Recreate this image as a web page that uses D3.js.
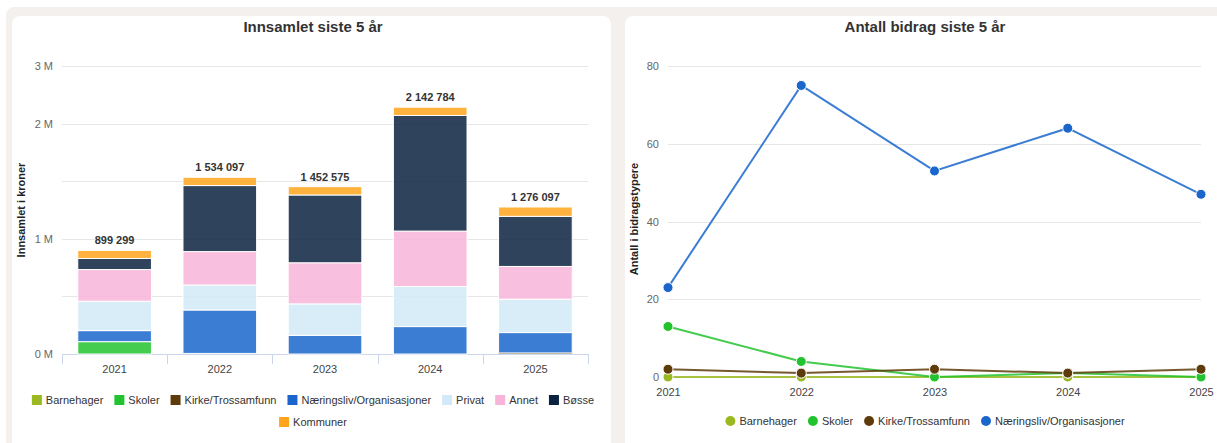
<!DOCTYPE html>
<html><head><meta charset="utf-8">
<script src="https://cdn.jsdelivr.net/npm/d3@7"></script>
<style>
html,body{margin:0;padding:0;background:#fff;}
svg{display:block;font-family:"Liberation Sans",Arial,Helvetica,sans-serif;}
</style></head>
<body>
<svg id="c" width="1217" height="443"></svg>
<script>
// ---------- DATA ----------
const years = ["2021","2022","2023","2024","2025"];
const barSeries = ["Barnehager","Skoler","Kirke/Trossamfunn","Næringsliv/Organisasjoner","Privat","Annet","Bøsse","Kommuner"];
const barnehagerKr = [0, 0, 0, 0, 3000];
const skolerKr = [107000, 5000, 0, 0, 0];
const kirkeKr = [0, 0, 0, 0, 6000];
const naeringslivKr = [96000, 377000, 162000, 238000, 177000];
const privatKr = [255000, 217000, 273000, 348000, 290000];
const annetKr = [275000, 290000, 357000, 481000, 284000];
const bosseKr = [96299, 573097, 588575, 1003784, 435097];
const kommunerKr = [70000, 72000, 72000, 72000, 81000];
const barGridValues = [0, 500000, 1000000, 1500000, 2000000, 2500000];
const barTickValues = [0, 1000000, 2000000, 2500000];
const barTickLabels = ["0 M", "1 M", "2 M", "3 M"];

const lineSeries = ["Barnehager","Skoler","Kirke/Trossamfunn","Næringsliv/Organisasjoner"];
const barnehagerAnt = [0, 0, 0, 0, 0];
const skolerAnt = [13, 4, 0, 1, 0];
const kirkeAnt = [2, 1, 2, 1, 2];
const naeringslivAnt = [23, 75, 53, 64, 47];
const lineTickValues = [0, 20, 40, 60, 80];

const barColors = ["#9ab820","#22c32e","#5e3b0b","#1a66cc","#d2eaf8","#f8b4d9","#0a2240","#ffa41b"];
const lineColors = ["#9ab820","#22c32e","#5e3b0b","#1a66cc"];

// ---------- LAYOUT ----------
const svg = d3.select("#c");
svg.append("rect").attr("x",6).attr("y",7).attr("width",1230).attr("height",460).attr("rx",8).attr("fill","#f3f0ed");
svg.append("rect").attr("x",12).attr("y",16).attr("width",599).attr("height",460).attr("rx",8).attr("fill","#fff");
svg.append("rect").attr("x",625).attr("y",16).attr("width",599).attr("height",460).attr("rx",8).attr("fill","#fff");

const TXT = "#333";

// ---------- LEFT: stacked bars ----------
const barVals = [barnehagerKr, skolerKr, kirkeKr, naeringslivKr, privatKr, annetKr, bosseKr, kommunerKr];
const L = svg.append("g");
L.append("text").attr("x",313).attr("y",32).attr("text-anchor","middle")
  .attr("font-size",15).attr("font-weight","bold").attr("fill",TXT).text("Innsamlet siste 5 år");

const xB = d3.scaleBand().domain(years).range([62,588]).paddingInner(0.3).paddingOuter(0.15);
const yB = d3.scaleLinear().domain([0,2500000]).range([354,66]);

L.append("g").selectAll("line").data(barGridValues).join("line")
  .attr("x1",62).attr("x2",588).attr("y1",d=>Math.round(yB(d))+0.5).attr("y2",d=>Math.round(yB(d))+0.5)
  .attr("stroke","#e6e6e6");

const yAxisL = d3.axisLeft(yB).tickValues(barTickValues).tickSize(0).tickPadding(0)
  .tickFormat((d,i)=>barTickLabels[i]);
const gyL = L.append("g").attr("transform","translate(53,0)").call(yAxisL);
gyL.select(".domain").remove();
gyL.selectAll("text").attr("font-size",11).attr("fill","#666").attr("font-family",null);

// x axis
const xAxisL = d3.axisBottom(xB).tickSize(0).tickPadding(11);
const gxL = L.append("g").attr("transform","translate(0,354)").call(xAxisL);
gxL.select(".domain").attr("stroke","#ccd6eb").attr("d","M62,0.5H588");
gxL.selectAll("text").attr("font-size",11).attr("fill","#444").attr("font-family",null);
// category boundary ticks
const bounds = d3.range(years.length+1).map(i=>62 + i*xB.step());
L.append("g").selectAll("line").data(bounds).join("line")
  .attr("x1",d=>Math.round(d)+0.5).attr("x2",d=>Math.round(d)+0.5).attr("y1",354).attr("y2",364)
  .attr("stroke","#ccd6eb");

L.append("text").attr("transform","translate(25,210) rotate(-90)").attr("text-anchor","middle")
  .attr("font-size",11).attr("font-weight","bold").attr("fill","#222").text("Innsamlet i kroner");

const stackData = years.map((y,i)=>{ const o={year:y}; barSeries.forEach((s,k)=>o[s]=barVals[k][i]); return o; });
const stacked = d3.stack().keys(barSeries)(stackData);
L.append("g").selectAll("g").data(stacked).join("g")
  .attr("fill",(d,i)=>barColors[i]).attr("fill-opacity",0.85)
  .selectAll("rect").data(d=>d).join("rect")
  .attr("x",d=>xB(d.data.year)).attr("width",xB.bandwidth())
  .attr("y",d=>yB(d[1])).attr("height",d=>Math.max(0,yB(d[0])-yB(d[1])))
  .attr("stroke","#fff").attr("stroke-width",d=>(yB(d[0])-yB(d[1]))>2?1:0);

const totals = years.map((y,i)=>d3.sum(barVals,v=>v[i]));
const fmt = v=>d3.format(",")(v).replace(/,/g," ");
L.append("g").selectAll("text").data(totals).join("text")
  .attr("x",(d,i)=>xB(years[i])+xB.bandwidth()/2).attr("y",d=>yB(d)-6)
  .attr("text-anchor","middle").attr("font-size",11).attr("font-weight","bold").attr("fill",TXT)
  .text(d=>fmt(d));

// legend helper
function legend(g, names, colors, shape, cx, rowYs, maxW){
  const items = names.map((n,i)=>{
    const t = g.append("text").attr("font-size",11).attr("fill",TXT).text(n);
    return {n, c:colors[i], t, w:t.node().getComputedTextLength()};
  });
  const symW = 14, gap = 11;
  const rows=[[]]; let cur=0;
  items.forEach(it=>{
    const iw = symW + it.w;
    const add = rows[rows.length-1].length? gap+iw : iw;
    if (cur+add>maxW && rows[rows.length-1].length){ rows.push([it]); cur=iw; }
    else { rows[rows.length-1].push(it); cur+=add; }
  });
  rows.forEach((row,r)=>{
    const tw = d3.sum(row,it=>symW+it.w) + gap*(row.length-1);
    let x = cx - tw/2; const y = rowYs[r];
    row.forEach(it=>{
      if (shape==="square") g.append("rect").attr("x",x).attr("y",y-5).attr("width",10).attr("height",10).attr("fill",it.c);
      else g.append("circle").attr("cx",x+5).attr("cy",y).attr("r",5).attr("fill",it.c);
      it.t.attr("x",x+symW).attr("y",y+4);
      x += symW + it.w + gap;
    });
  });
}
legend(L.append("g"), barSeries, barColors, "square", 313, [400,422], 575);

// ---------- RIGHT: lines ----------
const lineVals = [barnehagerAnt, skolerAnt, kirkeAnt, naeringslivAnt];
const R = svg.append("g");
R.append("text").attr("x",925).attr("y",32).attr("text-anchor","middle")
  .attr("font-size",15).attr("font-weight","bold").attr("fill",TXT).text("Antall bidrag siste 5 år");

const xL = d3.scalePoint().domain(years).range([668,1201]);
const yL = d3.scaleLinear().domain([0,80]).range([377,66]);

R.append("g").selectAll("line").data(lineTickValues).join("line")
  .attr("x1",668).attr("x2",1201).attr("y1",d=>Math.round(yL(d))+0.5).attr("y2",d=>Math.round(yL(d))+0.5)
  .attr("stroke","#e6e6e6");

const gyR = R.append("g").attr("transform","translate(659,0)")
  .call(d3.axisLeft(yL).tickValues(lineTickValues).tickSize(0).tickPadding(0));
gyR.select(".domain").remove();
gyR.selectAll("text").attr("font-size",11).attr("fill","#666").attr("font-family",null);

const gxR = R.append("g").attr("transform","translate(0,377)")
  .call(d3.axisBottom(xL).tickSize(0).tickPadding(11));
gxR.select(".domain").remove();
gxR.selectAll("text").attr("font-size",11).attr("fill","#444").attr("font-family",null);

R.append("text").attr("transform","translate(638,219) rotate(-90)").attr("text-anchor","middle")
  .attr("font-size",11).attr("font-weight","bold").attr("fill","#222").text("Antall i bidragstypere");

const lineGen = d3.line().x((d,i)=>xL(years[i])).y(d=>yL(d));
lineVals.forEach((vals,k)=>{
  const g = R.append("g");
  g.append("path").attr("d",lineGen(vals)).attr("fill","none")
    .attr("stroke",lineColors[k]).attr("stroke-opacity",0.85).attr("stroke-width",2);
  g.selectAll("circle").data(vals).join("circle")
    .attr("cx",(d,i)=>xL(years[i])).attr("cy",d=>yL(d)).attr("r",5)
    .attr("fill",lineColors[k]).attr("stroke","#fff").attr("stroke-width",1);
});

legend(R.append("g"), lineSeries, lineColors, "circle", 925, [421], 580);
</script>
</body></html>
